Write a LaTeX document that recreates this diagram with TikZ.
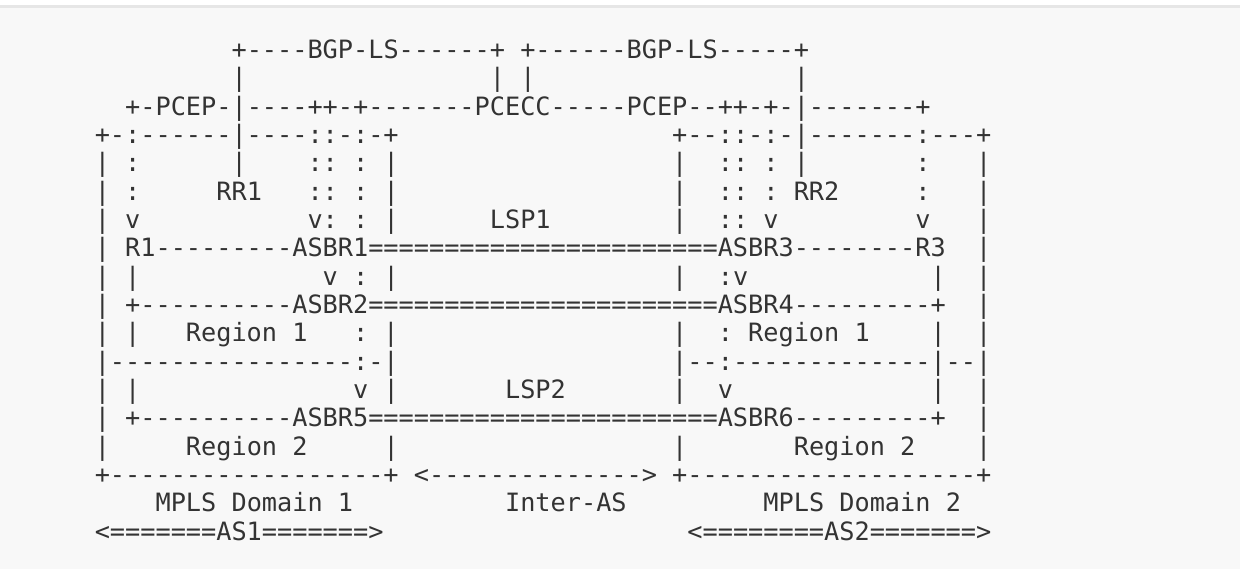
\documentclass[tikz,border=0pt]{standalone}
\usepackage{fontspec}
\setmonofont{DejaVu Sans Mono}
\definecolor{txt}{HTML}{333333}
\definecolor{bgc}{HTML}{F8F8F8}
\definecolor{bordc}{HTML}{E6E6E6}
\newcommand\sk[1]{\kern#1\fontcharwd\font`x\relax}
\begin{document}
\begin{tikzpicture}[x=0.5pt,y=-0.5pt,
  asc/.style={anchor=base west, inner sep=0pt, outer sep=0pt, text=txt,
    font=\ttfamily\fontsize{12.62}{14}\selectfont}]
\useasboundingbox (0,0) rectangle (1240,568);
\fill[white] (0,0) rectangle (1240,568);
\filldraw[fill=bgc, draw=bordc, line width=1.5] (-4,6) rectangle (1244,572);
\def\lx{94.8}
\node[asc] (l1) at (\lx,58.3) {\sk{9}+----BGP-LS------+\sk{1}+------BGP-LS-----+};
\node[asc] (l2) at (\lx,86.65) {\sk{9}|\sk{16}|\sk{1}|\sk{17}|};
\node[asc] (l3) at (\lx,115.0) {\sk{2}+-PCEP-|----++-+-------PCECC-----PCEP--++-+-|-------+};
\node[asc] (l4) at (\lx,143.35) {+-:------|----::-:-+\sk{18}+--::-:-|-------:---+};
\node[asc] (l5) at (\lx,171.7) {|\sk{1}:\sk{6}|\sk{4}::\sk{1}:\sk{1}|\sk{18}|\sk{2}::\sk{1}:\sk{1}|\sk{7}:\sk{3}|};
\node[asc] (l6) at (\lx,200.05) {|\sk{1}:\sk{5}RR1\sk{3}::\sk{1}:\sk{1}|\sk{18}|\sk{2}::\sk{1}:\sk{1}RR2\sk{5}:\sk{3}|};
\node[asc] (l7) at (\lx,228.4) {|\sk{1}v\sk{11}v:\sk{1}:\sk{1}|\sk{6}LSP1\sk{8}|\sk{2}::\sk{1}v\sk{9}v\sk{3}|};
\node[asc] (l8) at (\lx,256.75) {|\sk{1}R1---------ASBR1==========\/==========\/===ASBR3--------R3\sk{2}|};
\node[asc] (l9) at (\lx,285.1) {|\sk{1}|\sk{12}v\sk{1}:\sk{1}|\sk{18}|\sk{2}:v\sk{12}|\sk{2}|};
\node[asc] (l10) at (\lx,313.45) {|\sk{1}+----------ASBR2==========\/==========\/===ASBR4---------+\sk{2}|};
\node[asc] (l11) at (\lx,341.8) {|\sk{1}|\sk{3}Region\sk{1}1\sk{3}:\sk{1}|\sk{18}|\sk{2}:\sk{1}Region\sk{1}1\sk{4}|\sk{2}|};
\node[asc] (l12) at (\lx,370.15) {|----------------:-|\sk{18}|--:-------------|--|};
\node[asc] (l13) at (\lx,398.5) {|\sk{1}|\sk{14}v\sk{1}|\sk{7}LSP2\sk{7}|\sk{2}v\sk{13}|\sk{2}|};
\node[asc] (l14) at (\lx,426.85) {|\sk{1}+----------ASBR5==========\/==========\/===ASBR6---------+\sk{2}|};
\node[asc] (l15) at (\lx,455.2) {|\sk{5}Region\sk{1}2\sk{5}|\sk{18}|\sk{7}Region\sk{1}2\sk{4}|};
\node[asc] (l16) at (\lx,483.55) {+------------------+\sk{1}<-------------->\sk{1}+-------------------+};
\node[asc] (l17) at (\lx,511.9) {\sk{4}MPLS\sk{1}Domain\sk{1}1\sk{10}Inter-AS\sk{9}MPLS\sk{1}Domain\sk{1}2};
\node[asc] (l18) at (\lx,540.25) {<=======AS1=======>\sk{20}<========AS2=======>};
\end{tikzpicture}
\end{document}
